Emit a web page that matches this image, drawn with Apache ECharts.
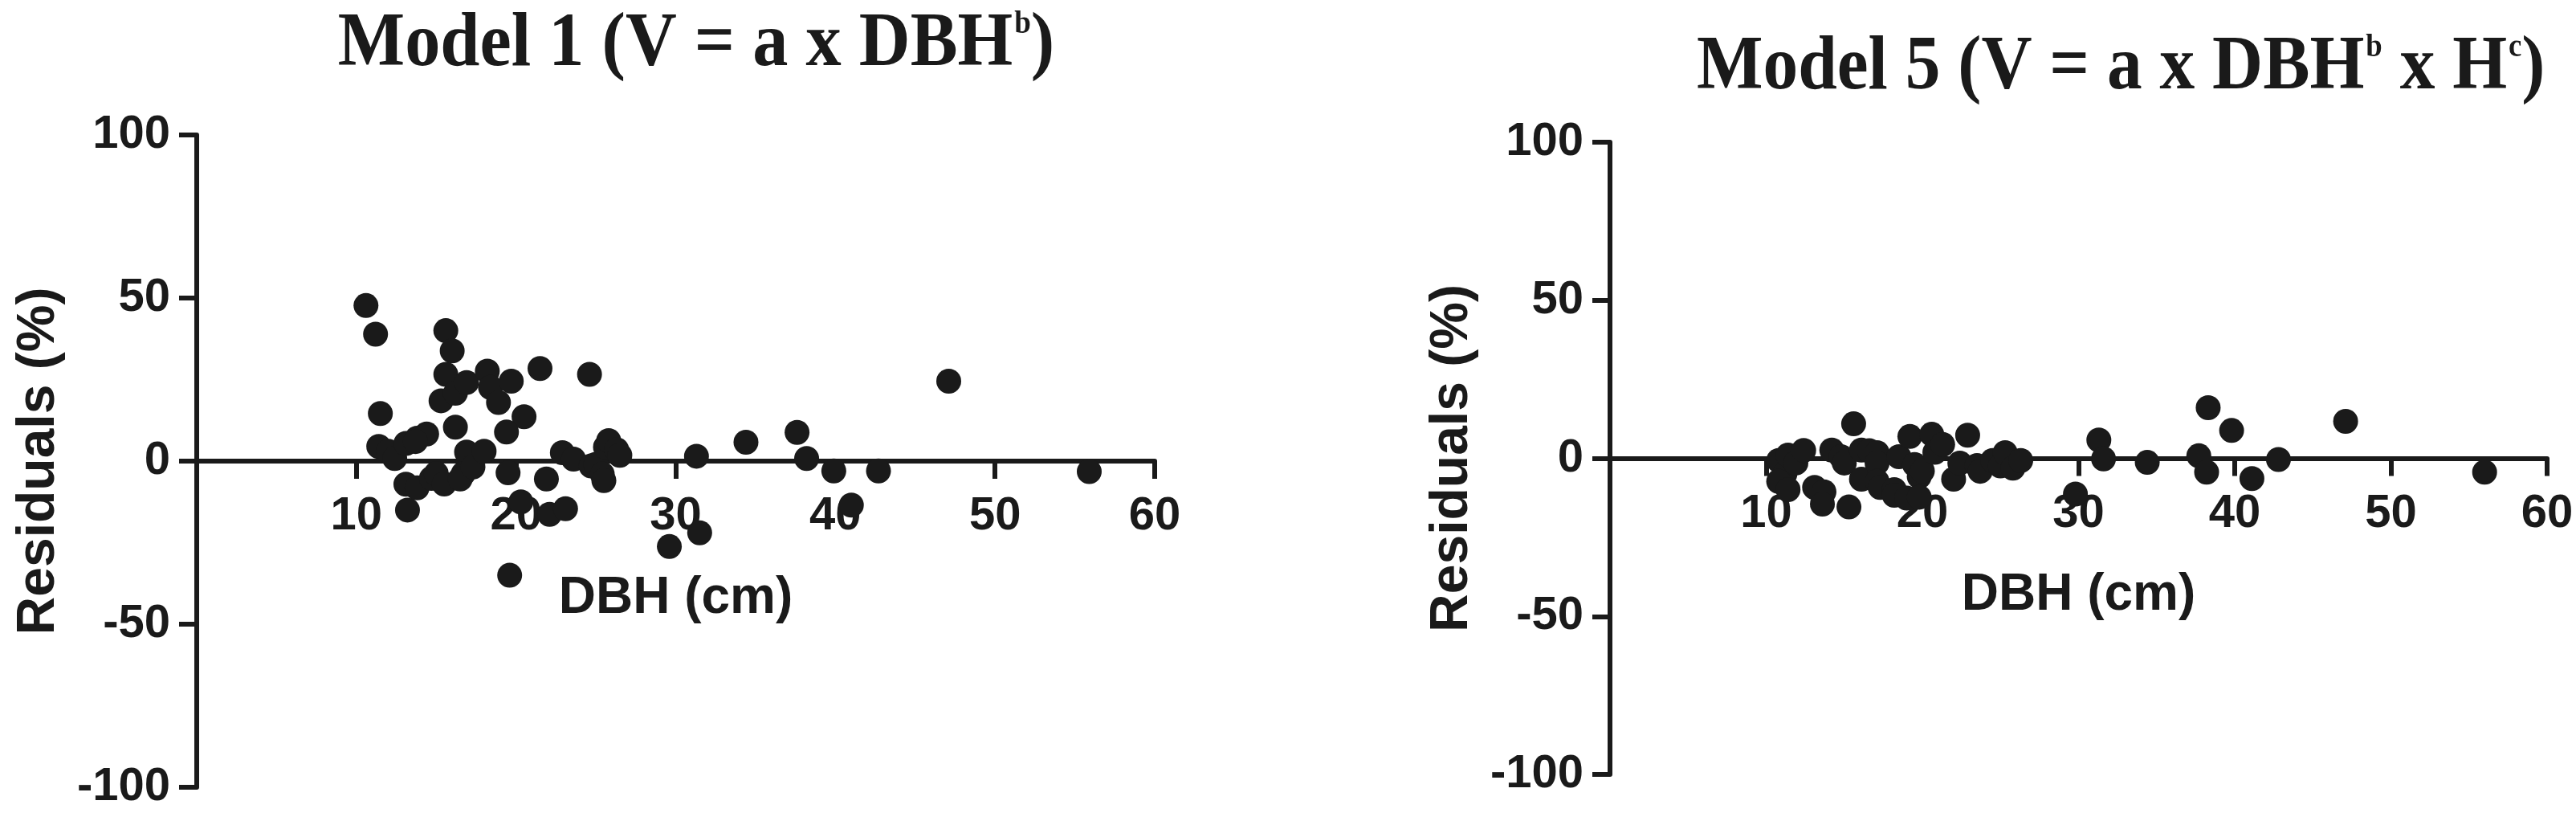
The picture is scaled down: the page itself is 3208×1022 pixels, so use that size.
<!DOCTYPE html>
<html><head><meta charset="utf-8">
<script src="https://cdn.jsdelivr.net/npm/echarts@6/dist/echarts.min.js"></script>
<style>html,body{margin:0;padding:0;background:#fff}#c{width:3208px;height:1022px}</style>
</head><body><div id="c"></div>
<script>
// ---- data ----
const model1DBH = [10.6,11.2,11.5,11.4,12.0,12.4,13.1,13.8,14.4,13.7,13.1,13.2,13.8,14.7,15.0,15.5,15.6,16.0,15.6,15.3,16.2,16.2,16.9,16.9,16.7,16.5,17.3,18.2,18.4,18.9,18.0,19.7,20.5,19.4,19.5,20.3,19.6,21.5,21.9,22.1,23.1,22.9,23.6,24.6,24.7,25.0,25.4,25.5,25.6,25.8,26.3,26.5,29.6,31.3,31.5,34.4,37.6,38.2,39.9,41.0,42.7,47.1,55.9];
const model1Residuals = [47.7,38.9,14.6,4.5,3.0,0.8,5.4,7.0,8.3,6.0,-7.1,-15.0,-8.2,-5.3,-3.8,-7.0,40.0,33.8,26.6,18.5,20.8,10.4,24.1,2.8,-3.8,-5.5,-1.8,27.6,22.6,18.0,3.0,24.5,13.6,8.9,-3.6,-12.5,-35.0,28.4,-5.5,-16.3,-14.6,2.6,0.6,26.6,-1.5,-1.0,-4.0,-6.0,4.3,6.3,3.5,1.8,-26.2,1.5,-22.0,5.8,8.8,0.8,-3.0,-13.5,-3.0,24.5,-3.2];
const model5DBH = [10.8,11.2,11.4,10.8,11.4,11.9,12.4,13.1,13.7,13.6,14.2,14.8,15.0,15.3,15.6,16.1,16.1,16.6,17.1,17.1,17.1,17.3,18.2,18.2,18.5,19.0,19.2,19.5,19.8,20.0,19.8,20.6,20.8,21.3,22.0,22.4,22.9,23.5,23.7,24.5,25.0,25.3,25.8,26.3,29.8,31.3,31.6,34.4,37.7,38.2,38.3,39.8,41.1,42.8,47.1,56.0];
const model5Residuals = [-0.7,-4.9,1.0,-7.3,-9.9,-1.5,2.5,-9.2,-10.6,-14.5,2.6,0.5,-1.5,-15.4,10.9,2.6,-6.6,2.4,1.8,-1.5,-7.3,-9.2,-9.9,-11.7,0.5,-12.6,6.9,-2.0,-5.8,-4.0,-12.3,7.6,1.9,4.4,-6.6,-1.5,7.3,-2.3,-4.1,-0.7,-2.4,1.8,-3.1,-0.7,-11.3,5.8,-0.2,-1.3,0.8,-4.4,16.0,8.8,-6.4,-0.4,11.7,-4.4];
const xAxisRange = [0, 60, 10];     // min, max, interval
const yAxisRange = [-100, 100, 50];
const xAxisTitle = 'DBH (cm)';
const yAxisTitle = 'Residuals (%)';
const panelTitles = [
  ['Model 1 (V = a x DBH', 'b', ')'],
  ['Model 5 (V = a x DBH', 'b', ' x H', 'c', ')']
];

// ---- chart ----
const INK = '#1a1a1a';
const SANS = '"Liberation Sans", Arial, sans-serif';
const SERIF = '"Liberation Serif", "Times New Roman", serif';

function pairs(xs, ys) { return xs.map((x, i) => [x, ys[i]]); }

// x axis drawn along the zero line of the y axis (moved up from grid bottom)
function xAxisFor(gi, lift) {
  return {
    gridIndex: gi, type: 'value', position: 'bottom', offset: -lift,
    min: xAxisRange[0], max: xAxisRange[1], interval: xAxisRange[2],
    axisLine: { show: true, onZero: false, lineStyle: { color: INK, width: 6 } },
    axisTick: { show: true, length: 22, lineStyle: { color: INK, width: 6 } },
    axisLabel: { showMinLabel: false, margin: 40, fontSize: 58, fontWeight: 'bold', color: INK, fontFamily: SANS },
    splitLine: { show: false },
    name: xAxisTitle, nameLocation: 'middle', nameGap: 139,
    nameTextStyle: { fontSize: 64, fontWeight: 'bold', color: INK, fontFamily: SANS }
  };
}
function yAxisFor(gi) {
  return {
    gridIndex: gi, type: 'value',
    min: yAxisRange[0], max: yAxisRange[1], interval: yAxisRange[2],
    axisLine: { show: true, onZero: false, lineStyle: { color: INK, width: 6 } },
    axisTick: { show: true, length: 22, lineStyle: { color: INK, width: 6 } },
    axisLabel: { margin: 33, fontSize: 58, fontWeight: 'bold', color: INK, fontFamily: SANS },
    splitLine: { show: false },
    name: yAxisTitle, nameLocation: 'middle', nameGap: 163,
    nameTextStyle: { fontSize: 66, fontWeight: 'bold', color: INK, fontFamily: SANS }
  };
}
function titleText(parts) {
  return parts.map((p, i) => (i % 2 === 0 ? '{m|' + p + '}' : '{s|' + p + '}')).join('');
}
const richTitle = {
  m: { fontSize: 95, fontWeight: 'bold', fontFamily: SERIF, lineHeight: 100, fill: INK, color: INK },
  s: { fontSize: 40, fontWeight: 'bold', fontFamily: SERIF, lineHeight: 40, padding: [0, 0, 50, 2], fill: INK, color: INK }
};

const grids = [
  { left: 245, top: 168, width: 1193, height: 812 },
  { left: 2005, top: 177, width: 1167, height: 787 }
];
const lifts = grids.map(g => g.height / 2);

const chart = echarts.init(document.getElementById('c'), null, { renderer: 'canvas' });
chart.setOption({
  animation: false,
  backgroundColor: '#ffffff',
  grid: grids,
  xAxis: [xAxisFor(0, lifts[0]), xAxisFor(1, lifts[1])],
  yAxis: [yAxisFor(0), yAxisFor(1)],
  series: [
    { type: 'scatter', xAxisIndex: 0, yAxisIndex: 0, symbolSize: 31, itemStyle: { color: INK, opacity: 1 }, data: pairs(model1DBH, model1Residuals) },
    { type: 'scatter', xAxisIndex: 1, yAxisIndex: 1, symbolSize: 31, itemStyle: { color: INK, opacity: 1 }, data: pairs(model5DBH, model5Residuals) }
  ],
  graphic: [
    { type: 'text', x: 867, y: 56, scaleX: 0.93,
      style: { text: titleText(panelTitles[0]), rich: richTitle, fill: INK, align: 'center', textAlign: 'center', verticalAlign: 'middle', textVerticalAlign: 'middle' } },
    { type: 'text', x: 2113, y: 85, scaleX: 0.92,
      style: { text: titleText(panelTitles[1]), rich: richTitle, fill: INK, align: 'left', textAlign: 'left', verticalAlign: 'middle', textVerticalAlign: 'middle' } }
  ]
});
</script></body></html>
